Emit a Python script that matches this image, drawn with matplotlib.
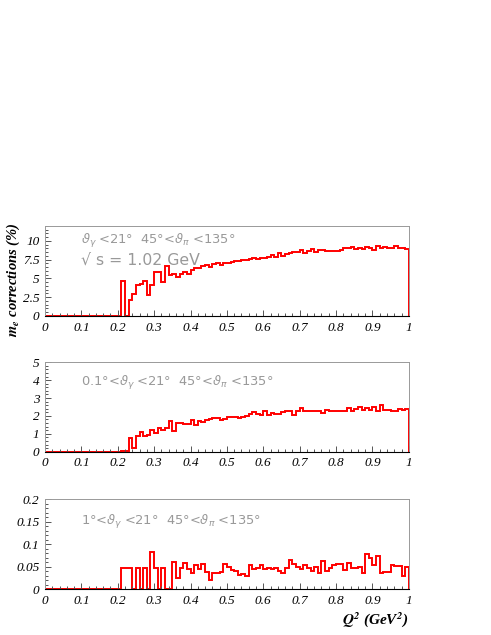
import numpy as np
import matplotlib
matplotlib.use("Agg")
import matplotlib.pyplot as plt
from matplotlib.ticker import MultipleLocator, FormatStrFormatter

# Q^2 bins: 100 bins from 0 to 1 GeV^2
bin_edges = np.linspace(0, 1, 101)

# panel 1: theta_gamma < 21 deg
corr_all = [0] * 21 + [
    4.7, 0, 2.1, 2.95, 4.1, 4.2, 4.65, 2.75, 4.15,
    5.8, 5.8, 4.5, 6.6, 5.5, 5.6, 5.25, 5.55, 5.8, 5.6,
    6.1, 6.4, 6.45, 6.6, 6.85, 6.5, 6.9, 7.0, 6.85, 7.0,
    7.0, 7.25, 7.3, 7.35, 7.45, 7.5, 7.65, 7.7, 7.65, 7.75,
    7.7, 7.9, 8.1, 7.9, 8.4, 8.0, 8.3, 8.35, 8.5, 8.5,
    8.8, 8.35, 8.7, 8.9, 8.5, 8.75, 8.8, 8.65, 8.7, 8.6,
    8.6, 8.75, 9.0, 9.05, 9.2, 8.9, 9.1, 8.95, 9.2, 9.1,
    8.75, 9.3, 9.1, 9.15, 9.1, 9.05, 9.35, 9.1, 9.0, 8.95,
]

# panel 2: 0.1 deg < theta_gamma < 21 deg
corr_01 = [0] * 21 + [
    0.05, 0.05, 0.78, 0.22, 0.9, 1.1, 0.85, 0.95, 1.2,
    1.05, 1.35, 1.2, 1.35, 1.7, 1.15, 1.6, 1.6, 1.55, 1.55,
    1.78, 1.5, 1.7, 1.65, 1.75, 1.8, 1.9, 1.9, 1.75, 1.8,
    1.95, 1.95, 1.92, 1.9, 1.95, 2.0, 2.1, 2.2, 2.1, 2.05,
    2.25, 2.05, 2.15, 2.1, 2.1, 2.2, 2.25, 2.25, 2.05, 2.25,
    2.45, 2.3, 2.3, 2.25, 2.3, 2.25, 2.15, 2.35, 2.3, 2.3,
    2.25, 2.3, 2.3, 2.45, 2.3, 2.4, 2.5, 2.35, 2.45, 2.35,
    2.5, 2.3, 2.6, 2.35, 2.35, 2.3, 2.25, 2.4, 2.35, 2.4,
]

# panel 3: 1 deg < theta_gamma < 21 deg
corr_1 = [0] * 21 + [
    0.047, 0.047, 0.047, 0, 0.047, 0, 0.047, 0, 0.083,
    0.047, 0, 0.047, 0, 0, 0.061, 0.025, 0.047, 0.057, 0.045,
    0.035, 0.054, 0.045, 0.055, 0.037, 0.02, 0.036, 0.036, 0.037, 0.055,
    0.049, 0.042, 0.041, 0.032, 0.034, 0.029, 0.053, 0.044, 0.046, 0.053,
    0.044, 0.046, 0.044, 0.046, 0.041, 0.036, 0.046, 0.065, 0.055, 0.048,
    0.044, 0.053, 0.046, 0.041, 0.049, 0.036, 0.063, 0.039, 0.046, 0.053,
    0.055, 0.055, 0.043, 0.058, 0.046, 0.046, 0.048, 0.036, 0.078, 0.068,
    0.053, 0.073, 0.036, 0.037, 0.037, 0.053, 0.052, 0.051, 0.028, 0.05,
]

labels = [
    r"$\vartheta_\gamma$ <21°  45°<$\vartheta_\pi$ <135°",
    r"0.1°<$\vartheta_\gamma$ <21°  45°<$\vartheta_\pi$ <135°",
    r"1°<$\vartheta_\gamma$ <21°  45°<$\vartheta_\pi$ <135°",
]
ylims = [12, 5, 0.2]
ymajor = [2.5, 1, 0.05]
yminor = [0.5, 0.2, 0.01]

fig = plt.figure(figsize=(4.91, 6.35), dpi=100)
rects = [
    [0.0916, 0.5024, 0.741, 0.1417],
    [0.0916, 0.2887, 0.741, 0.1408],
    [0.0916, 0.0724, 0.741, 0.1417],
]
text_y = [0.834, 0.765, 0.748]
series = [corr_all, corr_01, corr_1]

for i in range(3):
    ax = fig.add_axes(rects[i])
    ax.stairs(series[i], bin_edges, color="red", linewidth=1.4, baseline=0)
    ax.set_xlim(0, 1)
    ax.set_ylim(0, ylims[i])
    ax.xaxis.set_major_locator(MultipleLocator(0.1))
    ax.xaxis.set_minor_locator(MultipleLocator(0.02))
    ax.yaxis.set_major_locator(MultipleLocator(ymajor[i]))
    ax.yaxis.set_minor_locator(MultipleLocator(yminor[i]))
    ax.xaxis.set_major_formatter(FormatStrFormatter("%g"))
    ax.yaxis.set_major_formatter(FormatStrFormatter("%g"))
    ax.tick_params(which="both", direction="in", top=False, right=False,
                   colors="#555555", labelcolor="black", width=0.7)
    ax.tick_params(which="major", length=4, pad=4)
    ax.tick_params(which="minor", length=2)
    for lab in ax.get_xticklabels() + ax.get_yticklabels():
        lab.set_fontfamily("Liberation Serif")
        lab.set_fontstyle("italic")
        lab.set_fontsize(9.5)
    for s in ["top", "right", "left"]:
        ax.spines[s].set_color("#999999")
        ax.spines[s].set_linewidth(0.7)
    ax.spines["bottom"].set_color("black")
    ax.spines["bottom"].set_linewidth(0.8)
    ax.text(0.1, text_y[i], labels[i], transform=ax.transAxes, color="#999999",
            fontsize=9.4, va="center", ha="left", family="DejaVu Sans",
            math_fontfamily="dejavusans")
    if i == 0:
        ax.text(0.1, 0.62, "√ s = 1.02 GeV", transform=ax.transAxes,
                color="#999999", fontsize=11.3, va="center", ha="left",
                family="DejaVu Sans")

fig.text(0.027, 0.559, r"$\mathbfit{m_e}$ corrections (%)", rotation=90,
         ha="center", va="center", fontsize=10.5, fontweight="bold",
         fontstyle="italic", family="Liberation Serif", math_fontfamily="stix")
fig.text(0.832, 0.01, r"$\mathbfit{Q^2}$ (GeV$^{\mathbfit{2}}$)", ha="right",
         va="bottom", fontsize=11, fontweight="bold", fontstyle="italic",
         family="Liberation Serif", math_fontfamily="stix")

fig.savefig("out.png", dpi=100)
